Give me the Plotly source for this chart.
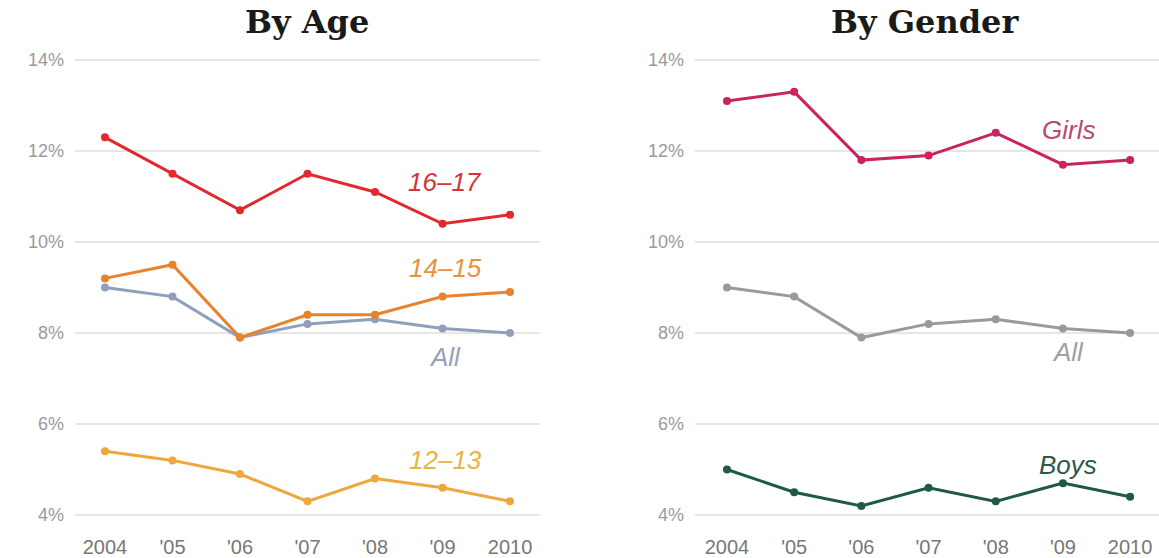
import plotly.graph_objects as go

years = [2004, 2005, 2006, 2007, 2008, 2009, 2010]
tick_labels = ["2004", "'05", "'06", "'07", "'08", "'09", "2010"]
y_ticks = [4, 6, 8, 10, 12, 14]
y_tick_labels = ["4%", "6%", "8%", "10%", "12%", "14%"]

age_16_17 = [12.3, 11.5, 10.7, 11.5, 11.1, 10.4, 10.6]
age_14_15 = [9.2, 9.5, 7.9, 8.4, 8.4, 8.8, 8.9]
age_all = [9.0, 8.8, 7.9, 8.2, 8.3, 8.1, 8.0]
age_12_13 = [5.4, 5.2, 4.9, 4.3, 4.8, 4.6, 4.3]

girls = [13.1, 13.3, 11.8, 11.9, 12.4, 11.7, 11.8]
gender_all = [9.0, 8.8, 7.9, 8.2, 8.3, 8.1, 8.0]
boys = [5.0, 4.5, 4.2, 4.6, 4.3, 4.7, 4.4]

fig = go.Figure()

def add(x, y, color, xa, ya):
    fig.add_trace(go.Scatter(
        x=x, y=y, mode="lines+markers", xaxis=xa, yaxis=ya,
        line=dict(color=color, width=3), marker=dict(color=color, size=8),
        showlegend=False, hoverinfo="skip"))

# left panel (draw order so 14-15 is over All)
add(years, age_all, "#8fa0bc", "x", "y")
add(years, age_12_13, "#eda73c", "x", "y")
add(years, age_14_15, "#e9822c", "x", "y")
add(years, age_16_17, "#e02a2e", "x", "y")
# right panel
add(years, gender_all, "#9a9a9a", "x2", "y2")
add(years, boys, "#1e5a45", "x2", "y2")
add(years, girls, "#c92460", "x2", "y2")

W, H = 1159, 558
yr = [3.6, 14.2]
ydom = [(H - 533.2) / H, (H - 50.9) / H]

axis_y = dict(range=yr, tickvals=y_ticks, ticktext=y_tick_labels,
              showgrid=True, gridcolor="#e6e6e6", gridwidth=1.5, zeroline=False,
              showline=False, ticks="", tickfont=dict(family="Liberation Sans", size=18, color="#9a9a9a"),
              fixedrange=True, domain=ydom, ticklabelstandoff=10)
axis_x = dict(tickvals=years, ticktext=tick_labels, showgrid=False, zeroline=False,
              showline=False, ticks="", tickfont=dict(family="Liberation Sans", size=20, color="#777777"),
              fixedrange=True)

fig.update_layout(
    width=W, height=H,
    margin=dict(l=0, r=0, t=0, b=0),
    paper_bgcolor="white", plot_bgcolor="white",
    xaxis=dict(axis_x, domain=[75 / W, 540 / W], range=[2003.556, 2010.444]),
    yaxis=dict(axis_y, anchor="x"),
    xaxis2=dict(axis_x, domain=[695 / W, 1.0], range=[2003.524, 2010.43], anchor="y2"),
    yaxis2=dict(axis_y, anchor="x2"),
)

title_font = dict(family="DejaVu Serif", size=32, color="#1a1a1a")
fig.add_annotation(text="<b>By Age</b>", x=307 / W, y=1 - 22 / H, xref="paper", yref="paper",
                   showarrow=False, font=title_font, xanchor="center", yanchor="middle")
fig.add_annotation(text="<b>By Gender</b>", x=925 / W, y=1 - 22 / H, xref="paper", yref="paper",
                   showarrow=False, font=title_font, xanchor="center", yanchor="middle")

def label(text, x, y, color, xa, ya):
    fig.add_annotation(text="<i>" + text + "</i>", x=x, y=y, xref=xa, yref=ya, showarrow=False,
                       font=dict(family="Liberation Sans", size=26, color=color),
                       xanchor="center", yanchor="middle")

label("16–17", 2009.04, 11.32, "#d8323a", "x", "y")
label("14–15", 2009.04, 9.43, "#e8923e", "x", "y")
label("All", 2009.04, 7.47, "#98a2b4", "x", "y")
label("12–13", 2009.04, 5.21, "#e6b640", "x", "y")

label("Girls", 2009.08, 12.46, "#b84a78", "x2", "y2")
label("All", 2009.08, 7.58, "#a0a0a0", "x2", "y2")
label("Boys", 2009.08, 5.1, "#2f5a4a", "x2", "y2")

fig.write_html("out.html")
